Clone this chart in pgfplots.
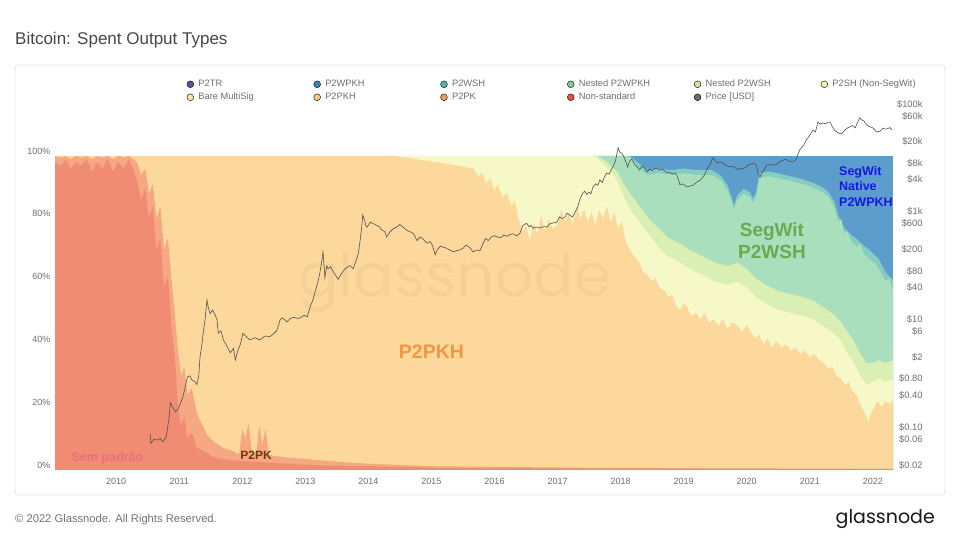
\documentclass[border=0pt]{standalone}
\usepackage{pgfplots}
\pgfplotsset{compat=1.18}
\usepackage{fontspec}
\setmainfont{Liberation Sans}
\newfontfamily\logofont{Poppins}
\definecolor{cWPKH}{HTML}{5C9DCB}
\definecolor{cWSH}{HTML}{86CCC0}
\definecolor{cNWPKH}{HTML}{AADFBE}
\definecolor{cNWSH}{HTML}{D9EFB4}
\definecolor{cSH}{HTML}{F7F8C8}
\definecolor{cPKH}{HTML}{FDD89D}
\definecolor{cPK}{HTML}{F6A882}
\definecolor{cNS}{HTML}{F08B74}
\definecolor{lP2TR}{HTML}{5E4FA2}
\definecolor{lWPKH}{HTML}{3A86C1}
\definecolor{lWSH}{HTML}{4DBBA8}
\definecolor{lNWPKH}{HTML}{80CD93}
\definecolor{lNWSH}{HTML}{C7E69F}
\definecolor{lSH}{HTML}{F3F5AE}
\definecolor{lBare}{HTML}{FDE6A2}
\definecolor{lPKH}{HTML}{FDC880}
\definecolor{lPK}{HTML}{F49A5A}
\definecolor{lNS}{HTML}{E8553F}
\definecolor{lPrice}{HTML}{6B6B6B}
\definecolor{priceC}{HTML}{505050}
\definecolor{tickgray}{HTML}{6E6E6E}
\definecolor{cardborder}{HTML}{E6E6E6}
\definecolor{tSem}{HTML}{E8707A}
\definecolor{tPK}{HTML}{6E3A0C}
\definecolor{tPKH}{HTML}{F29842}
\definecolor{tWSH}{HTML}{6AAA4F}
\definecolor{tWPKH}{HTML}{1616EB}
\pgfplotsset{dotlegend/.style={legend image code/.code={\fill[##1] (0pt,0pt) circle (3.4pt);}}}
\newcommand{\legtxt}[1]{\makebox[115.6pt][l]{\hspace{2.5pt}#1}}
\begin{document}
\begin{tikzpicture}
\path[fill=white] (0pt,0pt) rectangle (960pt,540pt);
\draw[cardborder, rounded corners=4pt, line width=0.8pt] (15pt,45pt) rectangle (945pt,475pt);
\node[anchor=west, inner sep=0pt, font=\fontsize{17}{20}\selectfont, text=black!72] at (15pt,500pt) {Bitcoin: Spent Output Types};
\node[anchor=west, inner sep=0pt, font=\fontsize{11.2}{13}\selectfont, text=black!55] at (15pt,20pt) {© 2022 Glassnode. All Rights Reserved.};
\node[anchor=east, inner sep=0pt, font=\logofont\fontsize{19}{22}\selectfont, text=black!90] at (935pt,21pt) {glassnode};

\begin{axis}[
  at={(55pt,70pt)}, anchor=south west, scale only axis, width=838pt, height=361pt,
  xmin=2009.03, xmax=2022.32, ymin=0, ymax=114.97,
  axis line style={draw=none}, major tick length=0pt, minor tick length=0pt,
  xtick={2010,2011,2012,2013,2014,2015,2016,2017,2018,2019,2020,2021,2022},
  xticklabels={2010,2011,2012,2013,2014,2015,2016,2017,2018,2019,2020,2021,2022},
  ytick={0,20,40,60,80,100},
  yticklabels={0\%,20\%,40\%,60\%,80\%,100\%},
  tick label style={font=\fontsize{9}{11}\selectfont, text=tickgray},
  xticklabel style={yshift=-5pt},
  yticklabel style={xshift=-1pt, yshift=5pt},
  /pgf/number format/assume math mode=true,
  legend columns=6,
  legend cell align=left,
  legend style={at={(0.157,1.087)}, anchor=north west, draw=none, fill=none, inner sep=0pt,
    font=\fontsize{9.3}{11}\selectfont, text=tickgray, row sep=0pt,
    nodes={text height=7pt, text depth=2pt, inner sep=2pt}},
]
\addlegendimage{dotlegend, fill=lP2TR}\addlegendentry{\legtxt{P2TR}}
\addlegendimage{dotlegend, fill=lWPKH}\addlegendentry{\legtxt{P2WPKH}}
\addlegendimage{dotlegend, fill=lWSH}\addlegendentry{\legtxt{P2WSH}}
\addlegendimage{dotlegend, fill=lNWPKH}\addlegendentry{\legtxt{Nested P2WPKH}}
\addlegendimage{dotlegend, fill=lNWSH}\addlegendentry{\legtxt{Nested P2WSH}}
\addlegendimage{dotlegend, fill=lSH}\addlegendentry{\hspace{2.5pt}P2SH (Non-SegWit)}
\addlegendimage{dotlegend, fill=lBare}\addlegendentry{\legtxt{Bare MultiSig}}
\addlegendimage{dotlegend, fill=lPKH}\addlegendentry{\legtxt{P2PKH}}
\addlegendimage{dotlegend, fill=lPK}\addlegendentry{\legtxt{P2PK}}
\addlegendimage{dotlegend, fill=lNS}\addlegendentry{\legtxt{Non-standard}}
\addlegendimage{dotlegend, fill=lPrice}\addlegendentry{\hspace{2.5pt}Price [USD]}

% P2WPKH top (cumulative 100%)
\addplot[fill=cWPKH, draw=none, forget plot] coordinates {(2017.55,100) (2022.32,100)} \closedcycle;
% P2WSH top (cumulative)
\addplot[fill=cWSH, draw=none, forget plot] coordinates {(2017.55,100) (2018.1,100) (2018.15,100) (2018.3,97.5) (2018.43,95.5) (2018.6,96) (2018.8,95.5) (2019.0,96) (2019.2,95.5) (2019.45,95.5) (2019.6,93.5) (2019.7,90.5) (2019.75,87.5) (2019.8,84.5) (2019.85,87.5) (2019.95,89.5) (2020.05,88.5) (2020.1,86.5) (2020.15,88.5) (2020.2,94.5) (2020.35,95) (2020.5,94.5) (2020.7,93.5) (2020.9,92.5) (2021.05,91.5) (2021.2,90) (2021.3,88.5) (2021.4,85) (2021.45,81) (2021.55,77) (2021.65,75) (2021.75,73.5) (2021.85,71.5) (2021.95,70) (2022.1,67) (2022.2,63) (2022.32,60.5)} \closedcycle;
% Nested P2WPKH top (cumulative)
\addplot[fill=cNWPKH, draw=none, forget plot] coordinates {(2017.55,100) (2018.1,100) (2018.15,99.5) (2018.3,96) (2018.43,94) (2018.6,94.5) (2018.8,94) (2019.0,94.5) (2019.2,94) (2019.45,94) (2019.6,92) (2019.7,89) (2019.75,86) (2019.8,83) (2019.85,86) (2019.95,88) (2020.05,87) (2020.1,85) (2020.15,87) (2020.2,93) (2020.35,93.5) (2020.5,93) (2020.7,92) (2020.9,91) (2021.05,90) (2021.2,88.5) (2021.3,87) (2021.4,83) (2021.45,79) (2021.5,80) (2021.55,75) (2021.6,76) (2021.65,73) (2021.75,71) (2021.8,72) (2021.85,69) (2021.95,67) (2022.02,66) (2022.1,64) (2022.2,60) (2022.26,61) (2022.32,57)} \closedcycle;
% Nested P2WSH top (cumulative)
\addplot[fill=cNWSH, draw=none, forget plot] coordinates {(2017.55,100) (2017.62,100) (2017.75,98.5) (2017.95,95) (2018.05,91) (2018.15,88) (2018.3,84) (2018.45,80) (2018.6,77) (2018.75,74) (2018.95,72) (2019.1,70) (2019.3,68) (2019.5,66) (2019.7,65) (2019.85,66) (2020.0,64) (2020.15,61) (2020.3,59) (2020.5,57) (2020.7,56) (2020.9,55) (2021.05,54) (2021.2,52) (2021.35,50) (2021.5,47) (2021.6,44) (2021.7,41) (2021.8,37) (2021.9,34) (2022.0,34) (2022.1,35) (2022.2,34) (2022.32,35)} \closedcycle;
% P2SH top (cumulative)
\addplot[fill=cSH, draw=none, forget plot] coordinates {(2014.3,100) (2017.58,100) (2017.65,99) (2017.75,97) (2017.85,95) (2017.95,92) (2018.05,87) (2018.15,83) (2018.3,79) (2018.45,75) (2018.6,71) (2018.75,68) (2018.95,66) (2019.1,64) (2019.3,62) (2019.5,60) (2019.7,59) (2019.85,60) (2020.0,58) (2020.15,55) (2020.3,53) (2020.5,51) (2020.7,50) (2020.9,49) (2021.05,48) (2021.2,46) (2021.35,44) (2021.5,41) (2021.6,37) (2021.7,34) (2021.8,30) (2021.9,27) (2022.0,28) (2022.1,29) (2022.2,28) (2022.32,29)} \closedcycle;
% P2PKH top (cumulative)
\addplot[fill=cPKH, draw=none, forget plot] coordinates {(2009.03,100) (2014.4,100) (2014.6,99.5) (2014.85,98.7) (2015.1,98) (2015.4,97) (2015.67,96) (2015.75,93) (2015.8,95) (2015.87,91) (2015.93,93) (2016.0,89) (2016.05,91) (2016.12,87) (2016.2,88) (2016.27,84) (2016.32,86) (2016.38,80) (2016.45,76) (2016.5,78) (2016.56,73) (2016.62,79) (2016.68,75) (2016.74,81) (2016.8,76) (2016.86,80) (2016.92,77) (2017.0,78) (2017.06,83) (2017.12,79) (2017.18,82) (2017.24,78) (2017.3,84) (2017.36,80) (2017.42,83) (2017.48,79) (2017.54,82) (2017.6,78) (2017.66,83) (2017.72,80) (2017.78,84) (2017.84,79) (2017.9,82) (2017.96,77) (2018.02,79) (2018.08,73) (2018.15,70) (2018.22,68) (2018.3,66) (2018.36,63) (2018.43,62) (2018.5,60) (2018.55,61) (2018.62,58) (2018.7,57) (2018.76,55) (2018.82,56) (2018.88,52) (2018.95,51) (2019.0,53) (2019.05,52) (2019.12,49) (2019.2,50) (2019.27,48) (2019.33,50) (2019.4,47) (2019.47,48) (2019.55,46) (2019.62,48) (2019.7,45) (2019.77,47) (2019.85,46) (2019.92,44) (2020.0,46) (2020.07,44) (2020.13,42) (2020.2,43) (2020.27,40) (2020.33,42) (2020.4,39) (2020.47,41) (2020.55,39) (2020.62,40) (2020.7,38) (2020.77,39) (2020.85,37) (2020.92,38) (2021.0,36) (2021.07,37) (2021.15,35) (2021.22,34) (2021.3,32) (2021.36,33) (2021.42,30) (2021.5,29) (2021.56,27) (2021.62,28) (2021.68,25) (2021.74,24) (2021.8,21) (2021.85,19) (2021.9,17) (2021.93,15) (2021.97,18) (2022.02,20) (2022.08,22) (2022.14,20) (2022.2,22) (2022.26,21) (2022.32,22)} \closedcycle;
% P2PK top (cumulative)
\addplot[fill=cPK, draw=none, forget plot] coordinates {(2009.03,100) (2009.12,99.5) (2009.2,100) (2009.28,99) (2009.36,100) (2009.45,99.5) (2009.53,100) (2009.62,99) (2009.7,100) (2009.78,99.5) (2009.87,100) (2009.95,99) (2010.03,100) (2010.12,99.5) (2010.2,100) (2010.27,99) (2010.33,98) (2010.4,94) (2010.46,96) (2010.52,88) (2010.58,91) (2010.64,80) (2010.7,84) (2010.76,70) (2010.82,74) (2010.88,60) (2010.93,50) (2010.98,38) (2011.03,30) (2011.08,33) (2011.13,24) (2011.2,26) (2011.28,18) (2011.35,15) (2011.45,11) (2011.55,9) (2011.7,7) (2011.85,6) (2011.95,5) (2012.0,13) (2012.05,10) (2012.1,15) (2012.15,6) (2012.22,5) (2012.27,14) (2012.32,8) (2012.37,13) (2012.42,5) (2012.5,4.5) (2012.7,4) (2013.0,3.5) (2013.3,3) (2013.6,2.5) (2014.0,2) (2014.5,1.6) (2015.0,1.2) (2016.0,1) (2017.0,0.8) (2018.0,0.7) (2020.0,0.5) (2022.32,0.4)} \closedcycle;
% Non-standard top
\addplot[fill=cNS, draw=none, forget plot] coordinates {(2009.03,98) (2009.12,97) (2009.2,99) (2009.28,96) (2009.36,98) (2009.45,97) (2009.53,99) (2009.62,95) (2009.7,98) (2009.78,96) (2009.87,99) (2009.95,95) (2010.03,98) (2010.12,96) (2010.2,99) (2010.27,96) (2010.33,92) (2010.4,86) (2010.46,90) (2010.52,80) (2010.58,84) (2010.64,70) (2010.7,74) (2010.76,58) (2010.82,62) (2010.88,45) (2010.93,36) (2010.98,20) (2011.03,14) (2011.08,17) (2011.13,10) (2011.2,12) (2011.28,7) (2011.4,6) (2011.55,4) (2011.7,3.5) (2011.9,3) (2012.3,2.5) (2012.7,2) (2013.2,1.5) (2014.0,1.2) (2015.0,0.8) (2017.0,0.5) (2019.0,0.4) (2022.32,0.3)} \closedcycle;

\node[font=\logofont\fontsize{60}{60}\selectfont, text=black, text opacity=0.035] at (axis cs:2015.37,59.6) {glassnode};
\end{axis}

\begin{axis}[
  at={(55pt,70pt)}, anchor=south west, scale only axis, width=838pt, height=361pt,
  xmin=2009.03, xmax=2022.32, ymode=log, ymin=0.02, ymax=100000,
  axis x line=none, axis y line*=right, axis line style={draw=none},
  major tick length=0pt, minor tick length=0pt,
  ytick={0.02,0.06,0.1,0.4,0.8,2,6,10,40,80,200,600,1000,4000,8000,20000,60000,100000},
  yticklabels={\$0.02,\$0.06,\$0.10,\$0.40,\$0.80,\$2,\$6,\$10,\$40,\$80,\$200,\$600,\$1k,\$4k,\$8k,\$20k,\$60k,\$100k},
  yticklabel style={font=\fontsize{9.3}{11}\selectfont, text=tickgray, anchor=east, xshift=33pt, yshift=5pt},
]
\addplot[color=priceC, line width=0.6pt] coordinates {(2010.54,0.093) (2010.55,0.062) (2010.6,0.074) (2010.65,0.072) (2010.7,0.077) (2010.74,0.067) (2010.79,0.081) (2010.81,0.11) (2010.84,0.19) (2010.86,0.35) (2010.89,0.30) (2010.94,0.24) (2010.98,0.27) (2011.01,0.32) (2011.06,0.46) (2011.1,0.74) (2011.13,1.07) (2011.17,1.12) (2011.2,0.94) (2011.25,0.87) (2011.28,0.77) (2011.31,1.12) (2011.33,2.5) (2011.36,4.3) (2011.38,6.9) (2011.41,12.4) (2011.44,28.5) (2011.46,21) (2011.49,16) (2011.53,18.6) (2011.57,14.9) (2011.6,12.2) (2011.62,6.9) (2011.66,7.7) (2011.7,5.2) (2011.75,4.1) (2011.81,3.0) (2011.86,3.6) (2011.89,2.2) (2011.93,3.3) (2011.97,4.3) (2012.01,6.9) (2012.06,6.0) (2012.12,5.2) (2012.2,5.7) (2012.28,5.2) (2012.36,6.1) (2012.44,6.0) (2012.5,6.8) (2012.55,7.8) (2012.6,12.2) (2012.63,13.3) (2012.67,12.4) (2012.71,11.2) (2012.76,13) (2012.82,13.6) (2012.88,13) (2012.92,13.3) (2012.98,14.9) (2013.03,13.9) (2013.08,22) (2013.12,28.5) (2013.17,47) (2013.2,62) (2013.23,90) (2013.26,149) (2013.28,223) (2013.3,112) (2013.31,74) (2013.34,124) (2013.36,109) (2013.4,118) (2013.45,93) (2013.52,69) (2013.57,87) (2013.62,105) (2013.66,115) (2013.71,124) (2013.76,109) (2013.8,149) (2013.84,207) (2013.87,372) (2013.9,744) (2013.91,1079) (2013.94,868) (2013.96,682) (2013.98,645) (2014.03,794) (2014.08,744) (2014.13,694) (2014.18,645) (2014.22,558) (2014.26,533) (2014.29,422) (2014.34,521) (2014.39,595) (2014.45,645) (2014.5,719) (2014.55,645) (2014.61,558) (2014.67,521) (2014.72,484) (2014.77,360) (2014.82,422) (2014.87,384) (2014.93,322) (2014.98,347) (2015.02,285) (2015.06,198) (2015.09,242) (2015.14,285) (2015.19,273) (2015.24,260) (2015.29,242) (2015.35,223) (2015.4,236) (2015.45,242) (2015.5,260) (2015.55,298) (2015.6,273) (2015.66,223) (2015.72,242) (2015.77,236) (2015.82,322) (2015.86,397) (2015.9,360) (2015.95,422) (2016.0,446) (2016.04,422) (2016.1,409) (2016.15,459) (2016.2,434) (2016.25,471) (2016.29,484) (2016.35,446) (2016.4,484) (2016.45,694) (2016.51,756) (2016.55,645) (2016.58,694) (2016.61,608) (2016.66,645) (2016.72,620) (2016.78,657) (2016.83,645) (2016.88,744) (2016.93,769) (2016.99,794) (2017.03,992) (2017.07,930) (2017.12,992) (2017.15,1166) (2017.2,1054) (2017.24,992) (2017.28,1240) (2017.32,1488) (2017.35,2071) (2017.4,2765) (2017.43,2976) (2017.46,2604) (2017.5,2852) (2017.53,2666) (2017.56,3534) (2017.6,4092) (2017.64,3844) (2017.67,4824) (2017.71,4340) (2017.74,5332) (2017.78,6510) (2017.82,6200) (2017.85,7440) (2017.88,8407) (2017.92,11160) (2017.96,18972) (2017.99,15500) (2018.02,15252) (2018.06,12400) (2018.09,9920) (2018.11,8407) (2018.14,10540) (2018.17,11780) (2018.19,11321) (2018.22,9300) (2018.26,8432) (2018.3,7403) (2018.34,8680) (2018.38,8060) (2018.42,6783) (2018.46,7688) (2018.5,7192) (2018.54,7812) (2018.57,8060) (2018.62,7316) (2018.66,7688) (2018.7,7068) (2018.73,6510) (2018.78,6696) (2018.82,6200) (2018.86,6448) (2018.89,5977) (2018.92,4712) (2018.94,3894) (2018.98,4092) (2019.02,3844) (2019.05,3571) (2019.1,3720) (2019.15,3844) (2019.21,4427) (2019.27,4836) (2019.33,5977) (2019.38,8060) (2019.42,9300) (2019.46,12400) (2019.5,11160) (2019.53,9920) (2019.57,10416) (2019.62,9920) (2019.67,8928) (2019.73,8407) (2019.78,8680) (2019.82,8060) (2019.86,7440) (2019.89,8060) (2019.93,7688) (2019.98,8184) (2020.03,9300) (2020.07,9424) (2020.1,9970) (2020.15,9300) (2020.18,6448) (2020.21,5493) (2020.25,6820) (2020.28,7688) (2020.32,9188) (2020.38,9300) (2020.43,9052) (2020.48,9424) (2020.52,10416) (2020.57,11160) (2020.62,11656) (2020.67,10788) (2020.73,10416) (2020.78,11408) (2020.84,17360) (2020.9,21080) (2020.95,27280) (2021.0,32240) (2021.05,40920) (2021.09,37200) (2021.13,57412) (2021.17,52080) (2021.2,55056) (2021.25,53320) (2021.29,57040) (2021.32,57412) (2021.36,46376) (2021.4,39680) (2021.43,37448) (2021.48,34720) (2021.52,35960) (2021.56,40920) (2021.6,44640) (2021.63,46376) (2021.68,49600) (2021.72,44640) (2021.76,57040) (2021.79,68200) (2021.83,62000) (2021.86,59520) (2021.9,50592) (2021.95,47120) (2022.0,44640) (2022.06,37448) (2022.1,38440) (2022.14,40920) (2022.16,44516) (2022.2,42160) (2022.24,43400) (2022.27,45260) (2022.3,40920)};
\end{axis}

\begin{axis}[
  at={(55pt,70pt)}, anchor=south west, scale only axis, width=838pt, height=361pt,
  xmin=2009.03, xmax=2022.32, ymin=0, ymax=114.97, axis lines=none, clip=false,
]
\node[font=\bfseries\fontsize{12.5}{14}\selectfont, text=tSem] at (axis cs:2009.86,3.8) {Sem padrão};
\node[font=\bfseries\fontsize{12}{14}\selectfont, text=tPK] at (axis cs:2012.22,4.8) {P2PK};
\node[font=\bfseries\fontsize{19.5}{22}\selectfont, text=tPKH] at (axis cs:2015.0,37.6) {P2PKH};
\node[font=\bfseries\fontsize{19}{22}\selectfont, text=tWSH, align=center] at (axis cs:2020.4,72.9) {SegWit\\P2WSH};
\node[font=\bfseries\fontsize{12.5}{15.5}\selectfont, text=tWPKH, align=left, anchor=west] at (axis cs:2021.41,90.4) {SegWit\\Native\\P2WPKH};
\end{axis}
\end{tikzpicture}
\end{document}
